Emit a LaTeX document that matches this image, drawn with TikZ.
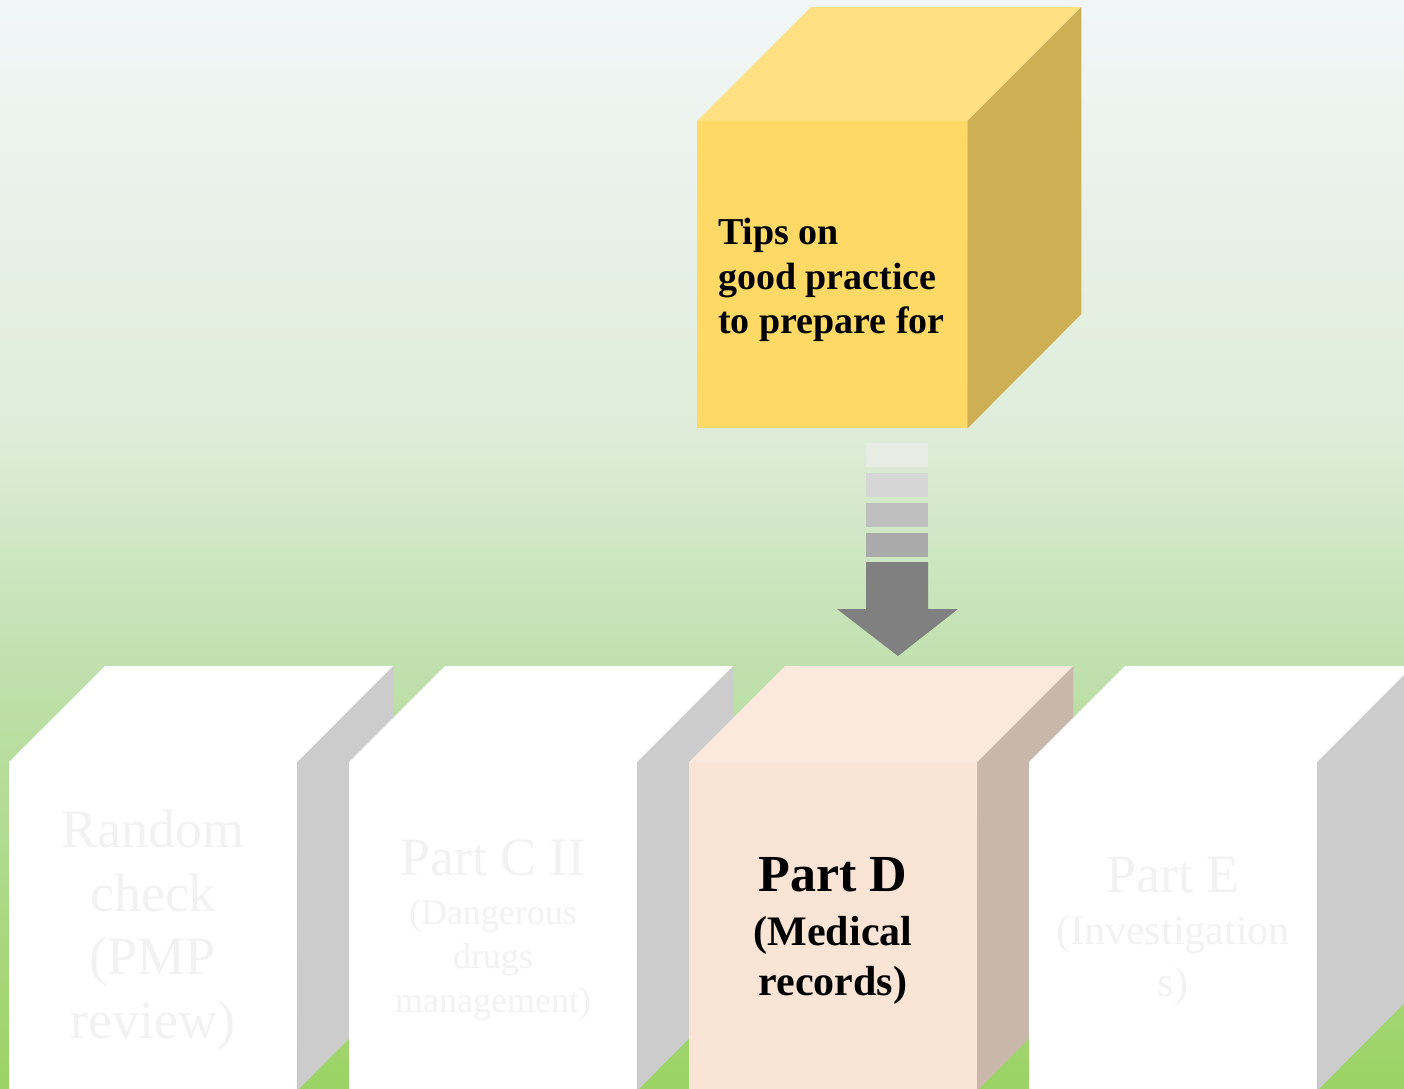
\documentclass[tikz,border=0pt]{standalone}
\usepackage{fontspec}
\setmainfont{Liberation Serif}
\usetikzlibrary{calc}
\definecolor{bgtop}{RGB}{242,246,248}
\definecolor{bgup}{RGB}{222,236,216}
\definecolor{bglow}{RGB}{192,224,174}
\definecolor{bgbot}{RGB}{155,211,100}
\pgfdeclareverticalshading{bgshade}{100bp}{color(0bp)=(bgbot); color(25bp)=(bgbot); color(44.5bp)=(bglow); color(55bp)=(bgup); color(75bp)=(bgtop); color(100bp)=(bgtop)}
\definecolor{tipfront}{RGB}{255,217,102}
\definecolor{tiptop}{RGB}{255,224,131}
\definecolor{tipside}{RGB}{207,175,84}
\definecolor{dfront}{RGB}{249,228,214}
\definecolor{dtop}{RGB}{251,233,222}
\definecolor{dside}{RGB}{201,183,171}
\definecolor{wside}{RGB}{204,204,204}
\definecolor{faint}{RGB}{242,242,242}
\definecolor{segA}{RGB}{231,236,228}
\definecolor{segB}{RGB}{214,214,214}
\definecolor{segC}{RGB}{191,191,191}
\definecolor{segD}{RGB}{170,170,170}
\definecolor{shaft}{RGB}{128,128,128}
% #1 name, #2 x, #3 y, #4 width, #5 height, #6 depth, #7 front, #8 top, #9 side
\newcommand{\mybox}[9]{%
  \node[name=#1, fill=#7, inner sep=0pt, minimum width=#4pt, minimum height=#5pt, anchor=north west] at (#2,#3) {};
  \fill[#8] (#1.north west) -- ++(#6,-#6) -- ++(#4,0) -- (#1.north east) -- cycle;
  \fill[#9] (#1.north east) -- ++(#6,-#6) -- ++(0,#5) -- (#1.south east) -- cycle;
}
\begin{document}
\begin{tikzpicture}[x=1pt,y=-1pt,
  faintbig/.style={text=faint, align=center, font=\fontsize{54}{63.5}\selectfont},
  faintsub/.style={text=faint, align=center, font=\fontsize{36}{44}\selectfont},
  faintsubE/.style={text=faint, align=center, font=\fontsize{42}{52}\selectfont},
  boldsub/.style={text=black, align=center, font=\bfseries\fontsize{42}{50}\selectfont},
  tipstext/.style={text=black, align=left, font=\bfseries\fontsize{38}{44.5}\selectfont, inner sep=0pt}]
\useasboundingbox (0,0) rectangle (1404,1088);
\clip (0,0) rectangle (1404,1088);
\begin{scope}[y=1pt]
  \shade[shading=bgshade] (0,0) rectangle (1404,-1088);
\end{scope}

% top cube
\mybox{tips}{697}{121}{270}{307}{114}{tipfront}{tiptop}{tipside}
\node[tipstext, anchor=west] (tipslabel) at (718,280) {Tips on\\good practice\\to prepare for};

% arrow
\coordinate (arrowtop) at (897,443);
\coordinate (arrowtip) at (898,656);
\fill[segA] ($(arrowtop)+(-31,0)$) rectangle ($(arrowtop)+(31,24)$);
\fill[segB] ($(arrowtop)+(-31,30)$) rectangle ($(arrowtop)+(31,54)$);
\fill[segC] ($(arrowtop)+(-31,60)$) rectangle ($(arrowtop)+(31,84)$);
\fill[segD] ($(arrowtop)+(-31,90)$) rectangle ($(arrowtop)+(31,114)$);
\fill[shaft] ($(arrowtop)+(-31,119)$) -- ($(arrowtop)+(31,119)$) -- ($(arrowtop)+(31,166)$)
  -- ($(arrowtip)+(60,-47)$) -- (arrowtip) -- ($(arrowtip)+(-61,-47)$) -- ($(arrowtop)+(-31,166)$) -- cycle;

% bottom cubes
\mybox{rc}{9}{762}{288}{328}{96}{white}{white}{wside}
\node[faintbig] (rctext) at (153,930) {Random\\check\\(PMP\\review)};

\mybox{pc}{349}{762}{288}{328}{96}{white}{white}{wside}
\node[faintsub] (pctext) at (493,930) {{\fontsize{54}{54}\selectfont Part C II}\\[5pt](Dangerous\\drugs\\management)};

\mybox{pd}{689}{762}{288}{328}{96}{dfront}{dtop}{dside}
\node[boldsub] (pdtext) at (833,931) {{\fontsize{52}{52}\selectfont Part D}\\[4pt](Medical\\records)};

\mybox{pe}{1029}{762}{288}{328}{96}{white}{white}{wside}
\node[faintsubE] (petext) at (1173,931) {{\fontsize{54}{54}\selectfont Part E}\\(Investigation\\s)};
\end{tikzpicture}
\end{document}
